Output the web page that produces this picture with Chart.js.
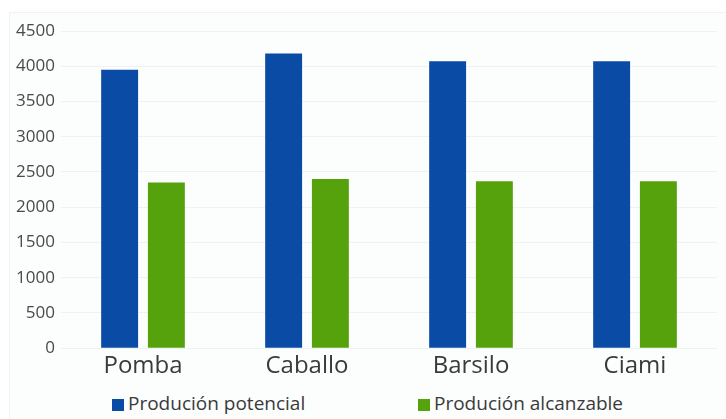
<!DOCTYPE html>
<html lang="es">
<head>
  <meta charset="UTF-8" />
  <title>Produción</title>
  <script src="https://cdn.jsdelivr.net/npm/chart.js"></script>
  <style>
    html, body { margin: 0; padding: 0; background: #ffffff; font-family: 'Open Sans', sans-serif; }
    .panel {
      position: absolute; left: 9px; top: 12px; width: 717px; height: 407px;
      background: #fcfdfd; border-top: 1px solid #eef3f3; border-left: 1px solid #f0f3f3;
    }
    .chart-box { position: absolute; left: 0; top: 0; width: 726px; height: 377px; }
    .legend { position: absolute; top: 390px; left: 0; width: 726px; height: 26px; }
    .legend span { position: absolute; top: 0; font-size: 19px; line-height: 26px; color: #3a3a3a; white-space: nowrap; }
    .legend i { display: inline-block; width: 12px; height: 12px; margin-right: 4px; vertical-align: -1px; }
  </style>
</head>
<body>
  <div class="panel"></div>
  <div class="chart-box">
    <canvas id="prodChart"></canvas>
  </div>
  <div class="legend" id="legend"></div>

  <script>
    const categorias = ['Pomba', 'Caballo', 'Barsilo', 'Ciami'];
    const potencial = [3950, 4180, 4070, 4070];
    const alcanzable = [2350, 2400, 2370, 2370];
    const colores = ['#0a4ba6', '#56a20c'];
    const series = ['Produción potencial', 'Produción alcanzable'];

    const ctx = document.getElementById('prodChart').getContext('2d');
    const prodChart = new Chart(ctx, {
      type: 'bar',
      data: {
        labels: categorias,
        datasets: [
          {
            label: series[0],
            data: potencial,
            backgroundColor: colores[0],
            categoryPercentage: 0.57,
            barPercentage: 0.79
          },
          {
            label: series[1],
            data: alcanzable,
            backgroundColor: colores[1],
            categoryPercentage: 0.57,
            barPercentage: 0.79
          }
        ]
      },
      options: {
        responsive: true,
        maintainAspectRatio: false,
        animation: false,
        layout: { padding: { left: 10, top: 31, right: 9, bottom: 0 } },
        scales: {
          y: {
            min: 0,
            max: 4500,
            afterFit: (scale) => { scale.width = 51; },
            ticks: {
              stepSize: 500,
              color: '#4a4a4a',
              font: { family: 'Open Sans', size: 17 },
              padding: 6,
              callback: (v) => String(v)
            },
            grid: { color: '#eef2f2', drawTicks: false },
            border: { display: false }
          },
          x: {
            ticks: { color: '#3a3a3a', font: { family: 'Open Sans', size: 24 }, padding: -4 },
            grid: { display: false },
            border: { display: false }
          }
        },
        plugins: {
          legend: { display: false },
          tooltip: { enabled: false }
        }
      }
    });

    // leyenda en HTML, mas separada que la de Chart.js
    const legend = document.getElementById('legend');
    const legendX = [112, 418];
    series.forEach((nombre, i) => {
      const item = document.createElement('span');
      item.style.left = legendX[i] + 'px';
      item.innerHTML = `<i style="background:${colores[i]}"></i>${nombre}`;
      legend.appendChild(item);
    });
  </script>
</body>
</html>
